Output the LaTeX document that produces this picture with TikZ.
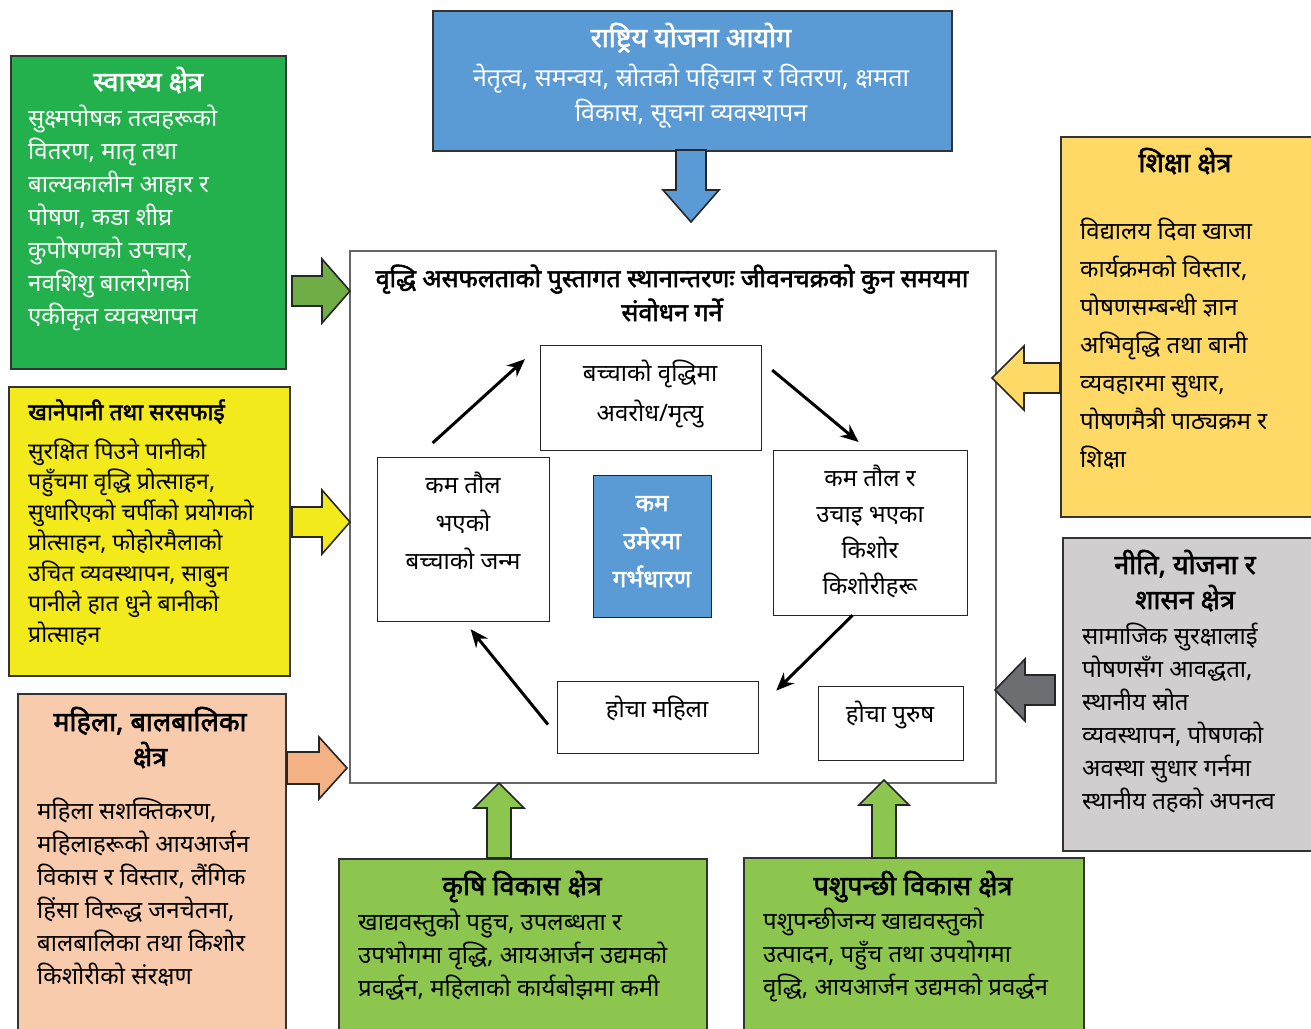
\documentclass[tikz,border=0pt]{standalone}
\usepackage{fontspec}
\setmainfont{Noto Sans}[Script=Devanagari]
\newfontfamily\devbold{Noto Sans}[Script=Devanagari, FakeBold=2.2]
\usetikzlibrary{positioning,calc,arrows.meta}

\definecolor{healthgreen}{RGB}{34,177,76}
\definecolor{arrowgreen}{RGB}{112,173,71}
\definecolor{washyellow}{RGB}{242,234,26}
\definecolor{womenpeach}{RGB}{248,203,173}
\definecolor{peacharrow}{RGB}{244,177,131}
\definecolor{planblue}{RGB}{91,155,213}
\definecolor{edugold}{RGB}{255,217,102}
\definecolor{govgray}{RGB}{208,206,206}
\definecolor{govarrow}{RGB}{109,110,113}
\definecolor{agrigreen}{RGB}{141,198,79}

\tikzset{
  pics/barrow/.style n args={4}{code={
    \path[pic actions] (0,0) -- (-#4,-#3) -- (-#4,-#2) -- (-#1,-#2)
      -- (-#1,#2) -- (-#4,#2) -- (-#4,#3) -- cycle;
  }}
}

\begin{document}
\begin{tikzpicture}[
    x=1pt, y=-1pt,
    sector/.style={draw=black!80, line width=1.6pt, anchor=north west, inner sep=0pt},
    title/.style={font=\fontsize{27}{35}\devbold, inner sep=0pt, align=center, anchor=base},
    body/.style={font=\fontsize{24}{33}\selectfont, inner sep=0pt, align=left, anchor=base west},
    stage/.style={draw=black!85, line width=1.2pt, anchor=north west, inner sep=0pt, fill=white},
    stagetext/.style={font=\fontsize{24}{38}\selectfont, inner sep=0pt, align=center, anchor=base},
    blk/.style={draw=black!85, line width=1.6pt},
    cyc/.style={-{Stealth[length=18pt, width=15pt]}, line width=3pt}
  ]
  \clip (0,0) rectangle (1311,1028);

  % ---- centre frame ----
  \node[draw=black!60, line width=1.5pt, anchor=north west, minimum width=646pt,
        minimum height=532pt, inner sep=0pt] (frame) at (349,250) {};
  \node[title, font=\fontsize{25}{34}\devbold] (frametitle) at (672,321)
    {वृद्धि असफलताको पुस्तागत स्थानान्तरणः जीवनचक्रको कुन समयमा\\संवोधन गर्ने};

  % ---- life cycle ----
  \node[stage, minimum width=221pt, minimum height=105pt] (stunt) at (540,345) {};
  \node[stagetext, font=\fontsize{24}{40}\selectfont] at (650,421) {बच्चाको वृद्धिमा\\अवरोध/मृत्यु};
  \node[stage, minimum width=172pt, minimum height=164pt] (lbw) at (377,457) {};
  \node[stagetext] at (463,569) {कम तौल\\भएको\\बच्चाको जन्म};
  \node[stage, minimum width=194pt, minimum height=165pt] (teen) at (773,450) {};
  \node[stagetext, font=\fontsize{24}{36}\selectfont] at (870,594) {कम तौल र\\उचाइ भएका\\किशोर\\किशोरीहरू};
  \node[stage, minimum width=201pt, minimum height=72pt] (mother) at (557,681) {};
  \node[stagetext] at (657,717) {होचा महिला};
  \node[stage, minimum width=145pt, minimum height=74pt] (father) at (818,686) {};
  \node[stagetext] at (890,722) {होचा पुरुष};
  \node[stage, fill=planblue, minimum width=118pt, minimum height=142pt] (early) at (593,475) {};
  \node[stagetext, font=\fontsize{24}{38}\devbold, text=white] at (652,587) {कम\\उमेरमा\\गर्भधारण};

  \draw[cyc] ([xshift=-31pt,yshift=14pt]lbw.north) -- ([xshift=-15pt,yshift=39pt]stunt.west);
  \draw[cyc] ([xshift=10pt,yshift=28pt]stunt.east) -- ([xshift=-12pt,yshift=8pt]teen.north);
  \draw[cyc] ([xshift=-18pt,yshift=1pt]teen.south) -- ([xshift=17pt,yshift=27pt]mother.east);
  \draw[cyc] ([xshift=-9pt,yshift=-7pt]mother.west) -- ([xshift=7pt,yshift=-7pt]lbw.south);

  % ---- national planning commission ----
  \node[sector, fill=planblue, minimum width=519pt, minimum height=140pt] (plan) at (432,10) {};
  \node[title, text=white] at (691,47) {राष्ट्रिय योजना आयोग};
  \node[title, font=\fontsize{25}{35}\selectfont, text=white] at (691,121)
    {नेतृत्व, समन्वय, स्रोतको पहिचान र वितरण, क्षमता\\विकास, सूचना व्यवस्थापन};
  \pic[blk, fill=planblue, rotate=-90] at (691,222) {barrow={72}{15}{28}{32}};

  % ---- health ----
  \node[sector, fill=healthgreen, minimum width=275pt, minimum height=313pt] (health) at (10,55) {};
  \node[title, text=white] at (148,91) {स्वास्थ्य क्षेत्र};
  \node[body, text=white] at (28,324)
    {सुक्ष्मपोषक तत्वहरूको\\वितरण, मातृ तथा\\बाल्यकालीन आहार र\\पोषण, कडा शीघ्र\\कुपोषणको उपचार,\\नवशिशु बालरोगको\\एकीकृत व्यवस्थापन};
  \pic[blk, fill=arrowgreen] at (350,291) {barrow={58}{15}{32}{28}};

  % ---- water and sanitation ----
  \node[sector, fill=washyellow, minimum width=281pt, minimum height=289pt] (wash) at (8,386) {};
  \node[title, anchor=base west, font=\fontsize{23}{35}\devbold] at (28,420) {खानेपानी तथा सरसफाई};
  \node[body, font=\fontsize{23}{30.5}\selectfont] at (28,642)
    {सुरक्षित पिउने पानीको\\पहुँचमा वृद्धि प्रोत्साहन,\\सुधारिएको चर्पीको प्रयोगको\\प्रोत्साहन, फोहोरमैलाको\\उचित व्यवस्थापन, साबुन\\पानीले हात धुने बानीको\\प्रोत्साहन};
  \pic[blk, fill=washyellow] at (350,522) {barrow={58}{15}{32}{28}};

  % ---- women and children ----
  \node[sector, fill=womenpeach, minimum width=268pt, minimum height=360pt] (women) at (17,693) {};
  \node[title] at (150,766) {महिला, बालबालिका\\क्षेत्र};
  \node[body] at (37,984)
    {महिला सशक्तिकरण,\\महिलाहरूको आयआर्जन\\विकास र विस्तार, लैंगिक\\हिंसा विरूद्ध जनचेतना,\\बालबालिका तथा किशोर\\किशोरीको संरक्षण};
  \pic[blk, fill=peacharrow] at (347,768) {barrow={60}{16}{31}{28}};

  % ---- education ----
  \node[sector, fill=edugold, minimum width=270pt, minimum height=380pt] (edu) at (1060,136) {};
  \node[title] at (1185,172) {शिक्षा क्षेत्र};
  \node[body, font=\fontsize{24}{38}\selectfont] at (1080,467)
    {विद्यालय दिवा खाजा\\कार्यक्रमको विस्तार,\\पोषणसम्बन्धी ज्ञान\\अभिवृद्धि तथा बानी\\व्यवहारमा सुधार,\\पोषणमैत्री पाठ्यक्रम र\\शिक्षा};
  \pic[blk, fill=edugold, rotate=180] at (992,378) {barrow={68}{15}{32}{32}};

  % ---- policy and governance ----
  \node[sector, fill=govgray, minimum width=270pt, minimum height=313pt] (gov) at (1062,537) {};
  \node[title] at (1185,609) {नीति, योजना र\\शासन क्षेत्र};
  \node[body] at (1082,809)
    {सामाजिक सुरक्षालाई\\पोषणसँग आवद्धता,\\स्थानीय स्रोत\\व्यवस्थापन, पोषणको\\अवस्था सुधार गर्नमा\\स्थानीय तहको अपनत्व};
  \pic[blk, fill=govarrow, rotate=180] at (995,690) {barrow={60}{15}{31}{30}};

  % ---- agriculture ----
  \node[sector, fill=agrigreen, minimum width=368pt, minimum height=200pt] (agri) at (338,858) {};
  \node[title] at (522,895) {कृषि विकास क्षेत्र};
  \node[body] at (358,996)
    {खाद्यवस्तुको पहुच, उपलब्धता र\\उपभोगमा वृद्धि, आयआर्जन उद्यमको\\प्रवर्द्धन, महिलाको कार्यबोझमा कमी};
  \pic[blk, fill=agrigreen, rotate=90] at (499,783) {barrow={75}{12}{25}{25}};

  % ---- livestock ----
  \node[sector, fill=agrigreen, minimum width=340pt, minimum height=200pt] (stock) at (743,857) {};
  \node[title] at (913,895) {पशुपन्छी विकास क्षेत्र};
  \node[body] at (763,995)
    {पशुपन्छीजन्य खाद्यवस्तुको\\उत्पादन, पहुँच तथा उपयोगमा\\वृद्धि, आयआर्जन उद्यमको प्रवर्द्धन};
  \pic[blk, fill=agrigreen, rotate=90] at (884,780) {barrow={78}{12}{25}{25}};
\end{tikzpicture}
\end{document}
